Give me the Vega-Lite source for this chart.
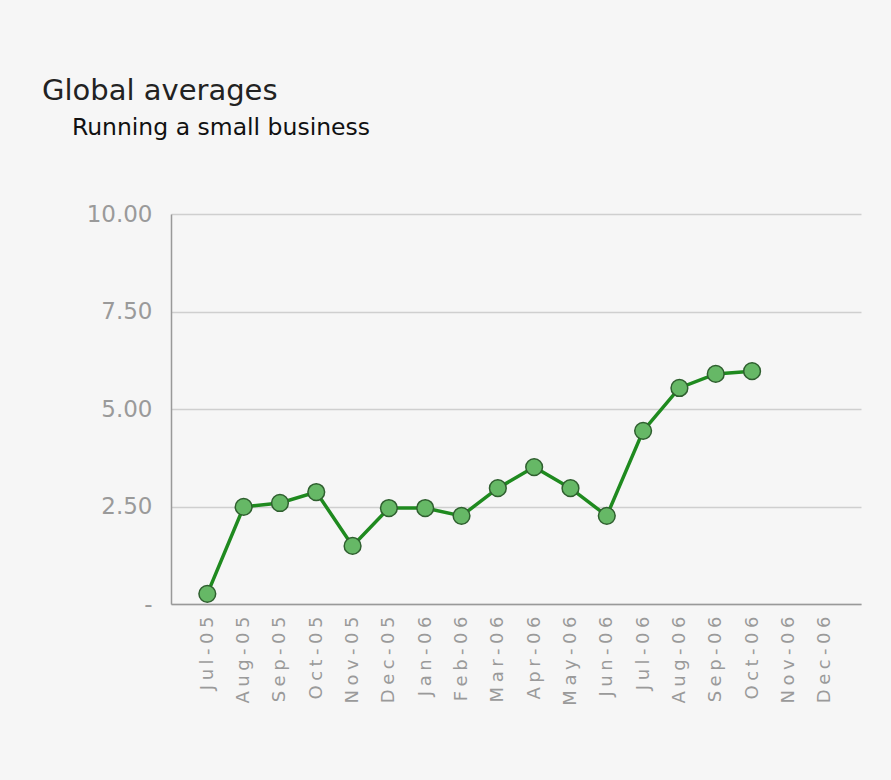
{
  "$schema": "https://vega.github.io/schema/vega-lite/v6.json",
  "autosize": {"type": "none"},
  "width": 690,
  "height": 390,
  "padding": {"left": 171, "top": 214, "right": 30, "bottom": 176},
  "background": "#f6f6f6",
  "config": {"view": {"stroke": null}},
  "title": {
    "text": "Global averages",
    "subtitle": "\u200b\u00a0\u00a0\u00a0\u00a0Running a small business",
    "anchor": "start",
    "frame": "group",
    "dx": -129,
    "offset": 64,
    "font": "DejaVu Sans",
    "fontSize": 29,
    "fontWeight": "normal",
    "color": "#222222",
    "subtitleFont": "DejaVu Sans",
    "subtitleFontSize": 23.5,
    "subtitleColor": "#111111",
    "subtitlePadding": 10
  },
  "data": {
    "values": [
      {"month": "Jul-05", "value": 0.26},
      {"month": "Aug-05", "value": 2.49},
      {"month": "Sep-05", "value": 2.59},
      {"month": "Oct-05", "value": 2.87},
      {"month": "Nov-05", "value": 1.49},
      {"month": "Dec-05", "value": 2.46},
      {"month": "Jan-06", "value": 2.46},
      {"month": "Feb-06", "value": 2.26},
      {"month": "Mar-06", "value": 2.97},
      {"month": "Apr-06", "value": 3.51},
      {"month": "May-06", "value": 2.97},
      {"month": "Jun-06", "value": 2.26},
      {"month": "Jul-06", "value": 4.44},
      {"month": "Aug-06", "value": 5.54},
      {"month": "Sep-06", "value": 5.9},
      {"month": "Oct-06", "value": 5.97}
    ]
  },
  "encoding": {
    "x": {
      "field": "month",
      "type": "ordinal",
      "sort": null,
      "scale": {
        "type": "point",
        "padding": 1,
        "domain": ["Jul-05", "Aug-05", "Sep-05", "Oct-05", "Nov-05", "Dec-05", "Jan-06", "Feb-06", "Mar-06", "Apr-06", "May-06", "Jun-06", "Jul-06", "Aug-06", "Sep-06", "Oct-06", "Nov-06", "Dec-06"]
      },
      "axis": {
        "title": null,
        "labelAngle": -90,
        "labelFont": "DejaVu Sans",
        "labelFontSize": 18,
        "labelColor": "#9a9a9a",
        "labelPadding": 12,
        "labelExpr": "join(split(datum.label, ''), '\u2005')",
        "ticks": false,
        "domainColor": "#999999",
        "domainWidth": 1.5,
        "grid": false
      }
    },
    "y": {
      "field": "value",
      "type": "quantitative",
      "scale": {"domain": [0, 10], "nice": false},
      "axis": {
        "title": null,
        "values": [0, 2.5, 5, 7.5, 10],
        "labelFont": "DejaVu Sans",
        "labelFontSize": 23,
        "labelColor": "#9a9a9a",
        "labelPadding": 19,
        "labelExpr": "datum.value == 0 ? '-' : format(datum.value, '.2f')",
        "ticks": false,
        "domainColor": "#999999",
        "domainWidth": 1.5,
        "grid": true,
        "gridColor": "#cfcfcf",
        "gridWidth": 1.5
      }
    }
  },
  "layer": [
    {"mark": {"type": "line", "color": "#1f8a1f", "strokeWidth": 3.5}},
    {"mark": {"type": "point", "filled": true, "fill": "#66b866", "stroke": "#2f5f2f", "strokeWidth": 1.5, "size": 280, "opacity": 1}}
  ]
}
